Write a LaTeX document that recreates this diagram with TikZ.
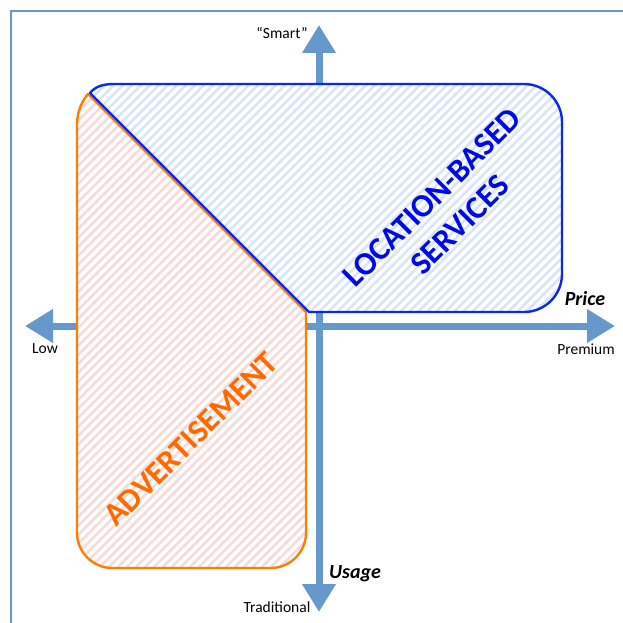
\documentclass[tikz,border=0pt]{standalone}
\usepackage{fontspec}
\setmainfont{Carlito}
\usetikzlibrary{arrows.meta}
\definecolor{axisblue}{RGB}{102,152,204}
\definecolor{lbsblue}{RGB}{10,40,240}
\definecolor{lbstext}{RGB}{0,10,230}
\definecolor{lbshatch}{RGB}{218,229,243}
\definecolor{adorange}{RGB}{255,125,0}
\definecolor{adtext}{RGB}{255,105,0}
\definecolor{adhatch}{RGB}{244,220,216}
\tikzset{
  frameline/.style={draw=axisblue, line width=2.2pt},
  axis/.style={draw=axisblue, line width=7pt,
    {Triangle[length=28pt,width=32pt]}-{Triangle[length=28pt,width=32pt]}},
  hatchline/.style={line width=2.6pt},
  regionborder/.style={line width=2.4pt, line join=round},
  small/.style={font=\fontsize{15.5}{18}\selectfont, text=black, inner sep=0pt},
  axisname/.style={font=\bfseries\itshape\fontsize{20}{24}\selectfont, text=black, inner sep=0pt},
  bigname/.style={font=\bfseries\fontsize{32.5}{39}\selectfont, align=center, rotate=45, inner sep=0pt}
}
\begin{document}
\begin{tikzpicture}[x=1pt, y=-1pt]
\useasboundingbox (0,0) rectangle (622,623);
\fill[white] (0,0) rectangle (622,623);

% outer frame (only its left and top edges fall inside the page)
\draw[frameline] (11,640) -- (11,11) -- (640,11);

% axis end points
\coordinate (lowend) at (25,326);
\coordinate (premend) at (615,326);
\coordinate (smartend) at (319,25);
\coordinate (tradend) at (319,612);

% axes
\draw[axis] (lowend) -- (premend);
\draw[axis] (tradend) -- (smartend);

% advertisement region
\def\adpath{(306,312) -- (88,94) .. controls (83,100) and (77,110) .. (77,125)
  -- (77,533) .. controls (77,552) and (93,568) .. (112,568)
  -- (271,568) .. controls (290,568) and (306,552) .. (306,533) -- cycle}
\fill[white] \adpath;
\begin{scope}
  \clip \adpath;
  \foreach \k in {-639,-630,...,640}
    \draw[adhatch, hatchline] (\k,640) -- ++(700,-700);
\end{scope}
\draw[adorange, regionborder] \adpath;

% location-based services region
\def\lbspath{(309,312) -- (90,93) .. controls (95,87) and (102,84) .. (114,84)
  -- (524,84) .. controls (545,84) and (562,101) .. (562,122)
  -- (562,274) .. controls (562,295) and (545,312) .. (524,312) -- cycle}
\fill[white] \lbspath;
\begin{scope}
  \clip \lbspath;
  \foreach \k in {-639,-630,...,640}
    \draw[lbshatch, hatchline] (\k,640) -- ++(700,-700);
\end{scope}
\draw[lbsblue, regionborder] \lbspath;

% region names
\node[bigname, text=lbstext] (lbs) at (446,211) {LOCATION-BASED\\SERVICES};
\node[bigname, text=adtext] (ad) at (191,439) {ADVERTISEMENT};

% axis labels
\node[small] (smart) at (282,33) {“Smart”};
\node[small] (low) at (45,349) {Low};
\node[small] (premium) at (586,349) {Premium};
\node[small] (traditional) at (277,607) {Traditional};
\node[axisname] (price) at (585,299) {Price};
\node[axisname] (usage) at (355,574) {Usage};
\end{tikzpicture}
\end{document}
